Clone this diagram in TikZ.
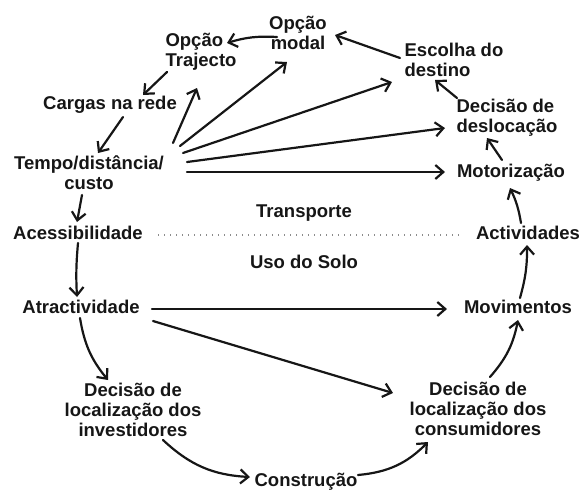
\documentclass[tikz,border=0pt]{standalone}
\usepackage{fontspec}
\setmainfont{Liberation Sans}
\usetikzlibrary{arrows.meta}
\definecolor{ink}{RGB}{22,22,22}
\tikzstyle{concept}=[font=\bfseries\fontsize{18.5}{20}\selectfont, text=ink, inner sep=1pt]
\tikzstyle{link}=[draw=ink, line width=2.2pt, line cap=round, -{Straight Barb[length=8pt,width=14pt]}]
\tikzstyle{divider}=[draw=gray!90, line width=1.3pt, dash pattern=on 1.2pt off 4.8pt]

\begin{document}
\begin{tikzpicture}[x=1pt, y=-1pt]
    \useasboundingbox (0,0) rectangle (582,491);
    % First we place the concepts
    \foreach \pos/\name/\side/\txt in {{(298,33)/modal/center/{Opção\\modal}},
        {(201,52)/trajecto/left/{Opção\\Trajecto}}, {(454,60)/destino/left/{Escolha do\\destino}},
        {(507,118)/desloc/left/{Decisão de\\deslocação}}, {(511,173)/motor/center/Motorização},
        {(528,233)/activ/center/Actividades}, {(304,213)/transp/center/Transporte},
        {(304,262)/uso/center/Uso do Solo}, {(110,105)/cargas/center/Cargas na rede},
        {(89,173)/tempo/center/{Tempo/distância/\\custo}}, {(78,233)/acess/center/Acessibilidade},
        {(81,307)/atract/center/Atractividade}, {(518,307)/movim/center/Movimentos},
        {(133,410)/invest/center/{Decisão de\\localização dos\\investidores}},
        {(478,409)/consum/center/{Decisão de\\localização dos\\consumidores}},
        {(306,482)/constr/center/Construção}}
        \node[concept, align=\side] (\name) at \pos {\txt};
    % Split between the two subsystems
    \path[divider] ([shift={(80,2)}]acess.center) -- ([shift={(-68,2)}]activ.center);
    % Connect concepts with arrows
    \foreach \source/\sx/\sy/\dest/\dx/\dy/\bend in {modal/-21/4/trajecto/26/-9/10,
        destino/-54/-2/modal/37/2/0, desloc/-50/-20/destino/-19/20/0,
        motor/-9/-13/desloc/-20/20/0, activ/-7/-10/motor/-1/15/8,
        movim/2/-9/activ/-1/12/8, consum/12/-32/movim/0/13/15,
        constr/52/-7/consum/-50/33/20, invest/30/30/constr/-56/-5/20,
        atract/-1/11/invest/-25/-30/15, atract/71/2/movim/-71/2/0,
        atract/72/14/consum/-85/-16/0, acess/0/10/atract/-4/-10/4,
        tempo/-7/22/acess/-1/-11/0, cargas/13/12/tempo/9/-20/0,
        trajecto/-34/20/cargas/33/-10/0, tempo/84/-30/trajecto/-4/36/0,
        tempo/91/-27/modal/-11/29/0, tempo/94/-20/destino/-62/22/0,
        tempo/98/-11/desloc/-62/10/0, tempo/98/-1/motor/-66/-1/0}
        \path[link] ([shift={(\sx,\sy)}]\source.center) to[bend right=\bend] ([shift={(\dx,\dy)}]\dest.center);
\end{tikzpicture}
\end{document}
